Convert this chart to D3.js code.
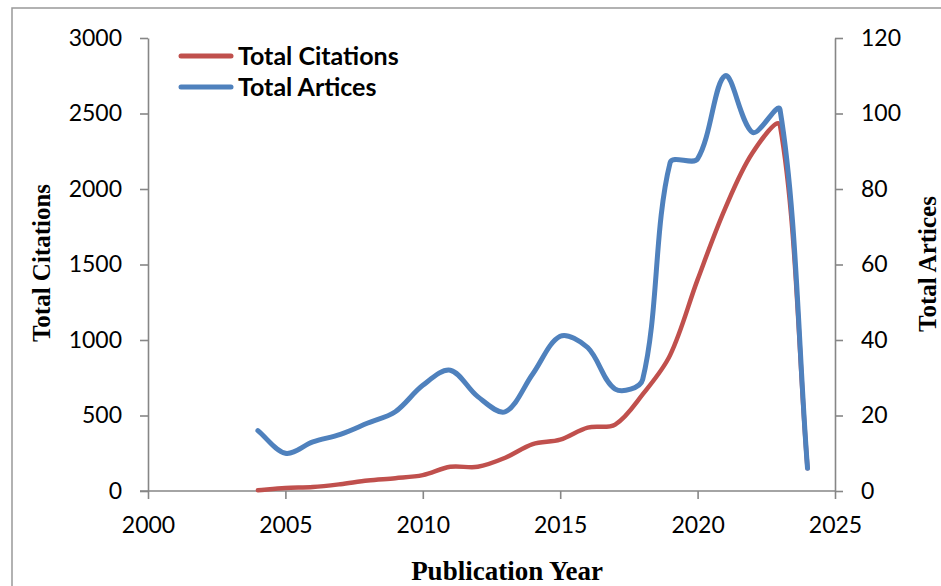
<!DOCTYPE html>
<html><head><meta charset="utf-8">
<script src="https://cdn.jsdelivr.net/npm/d3@7"></script>
<style>body{margin:0;background:#fff}svg{display:block}</style>
</head><body>
<svg id="c" width="941" height="586"></svg>
<script>
const years = [2004,2005,2006,2007,2008,2009,2010,2011,2012,2013,2014,2015,2016,2017,2018,2019,2020,2021,2022,2023,2024];
const totalCitations = [5,20,26,45,70,85,105,160,160,220,310,340,420,440,640,900,1400,1870,2240,2420,150];
const totalArticles = [16,10,13,15,18,21,28,32,25,21,31,41,38,27,29.5,87,88,110,95,101,6];
const xTicks = [2000,2005,2010,2015,2020,2025];
const leftTicks = [0,500,1000,1500,2000,2500,3000];
const rightTicks = [0,20,40,60,80,100,120];
const seriesNames = ["Total Citations","Total Artices"];
const colors = ["#C0504D","#4F81BD"];

// Excel-like smoothed line as a d3 curve factory
function ExcelCurve(context){ this._context = context; }
ExcelCurve.prototype = {
  areaStart(){ this._line = 0; },
  areaEnd(){ this._line = NaN; },
  lineStart(){ this._pts = []; },
  point(x, y){ this._pts.push([+x, +y]); },
  lineEnd(){
    const p = this._pts, c = this._context, n = p.length;
    if (!n) return;
    c.moveTo(p[0][0], p[0][1]);
    const dist = (a,b) => Math.hypot(b[0]-a[0], b[1]-a[1]);
    const f = 1/6;
    for (let i = 0; i < n-1; i++){
      const P0 = p[i-1] || p[i], P1 = p[i], P2 = p[i+1], P3 = p[i+2] || p[i+1];
      const d01 = dist(P0,P1), d12 = dist(P1,P2), d23 = dist(P2,P3);
      const f1 = (d01 + d12) > 0 ? f*2*d12/(d01+d12) : 0;
      const f2 = (d12 + d23) > 0 ? f*2*d12/(d12+d23) : 0;
      const c1 = [P1[0] + (P2[0]-P0[0])*f1, P1[1] + (P2[1]-P0[1])*f1];
      const c2 = [P2[0] - (P3[0]-P1[0])*f2, P2[1] - (P3[1]-P1[1])*f2];
      c.bezierCurveTo(c1[0], c1[1], c2[0], c2[1], P2[0], P2[1]);
    }
  }
};
const curveExcel = ctx => new ExcelCurve(ctx);

const svg = d3.select("#c");
const L = 148, R = 835, T = 38, B = 491;
const x = d3.scaleLinear().domain([2000,2025]).range([L,R]);
const yL = d3.scaleLinear().domain([0,3000]).range([B,T]);
const yR = d3.scaleLinear().domain([0,120]).range([B,T]);
const axisCol = "#868686";
const tickFont = "Lato, 'Liberation Sans', sans-serif";

svg.append("rect").attr("x",12).attr("y",8).attr("width",1000).attr("height",700)
  .attr("fill","none").attr("stroke","#999").attr("stroke-width",1.5);

function styleAxis(g){
  g.selectAll("path,line").attr("stroke",axisCol).attr("stroke-width",1.6);
  g.selectAll("text").attr("fill","#000").attr("font-family",tickFont).attr("font-size",23);
}
const gx = svg.append("g").attr("transform",`translate(0,${B})`)
  .call(d3.axisBottom(x).tickValues(xTicks).tickFormat(d3.format("d")).tickSizeInner(8).tickSizeOuter(0).tickPadding(18));
styleAxis(gx);
gx.select(".domain").attr("d",`M${L-8},0H${R}`);
const gl = svg.append("g").attr("transform",`translate(${L},0)`)
  .call(d3.axisLeft(yL).tickValues(leftTicks).tickFormat(d3.format("d")).tickSizeInner(8).tickSizeOuter(0).tickPadding(18));
styleAxis(gl);
const gr = svg.append("g").attr("transform",`translate(${R},0)`)
  .call(d3.axisRight(yR).tickValues(rightTicks).tickFormat(d3.format("d")).tickSizeInner(8).tickSizeOuter(0).tickPadding(18));
styleAxis(gr);

const lineL = d3.line().x((d,i)=>x(years[i])).y(d=>yL(d)).curve(curveExcel);
const lineR = d3.line().x((d,i)=>x(years[i])).y(d=>yR(d)).curve(curveExcel);
svg.append("path").attr("d",lineL(totalCitations)).attr("fill","none")
  .attr("stroke",colors[0]).attr("stroke-width",4.5).attr("stroke-linecap","round").attr("stroke-linejoin","round");
svg.append("path").attr("d",lineR(totalArticles)).attr("fill","none")
  .attr("stroke",colors[1]).attr("stroke-width",5).attr("stroke-linecap","round").attr("stroke-linejoin","round");

// legend
seriesNames.forEach((n,i)=>{
  const yy = 56 + i*31;
  svg.append("line").attr("x1",181).attr("x2",231).attr("y1",yy).attr("y2",yy)
    .attr("stroke",colors[i]).attr("stroke-width",5).attr("stroke-linecap","round");
  svg.append("text").attr("x",238).attr("y",yy+9).text(n)
    .attr("font-family",tickFont).attr("font-weight","bold").attr("font-size",25);
});

const titleFont = "'Liberation Serif','Times New Roman',serif";
svg.append("text").attr("transform","translate(50,263) rotate(-90)").attr("text-anchor","middle")
  .attr("font-family",titleFont).attr("font-weight","bold").attr("font-size",25).text("Total Citations");
svg.append("text").attr("transform","translate(936,264) rotate(-90)").attr("text-anchor","middle")
  .attr("font-family",titleFont).attr("font-weight","bold").attr("font-size",25).text("Total Artices");
svg.append("text").attr("x",507).attr("y",580).attr("text-anchor","middle")
  .attr("font-family",titleFont).attr("font-weight","bold").attr("font-size",27).text("Publication Year");
</script>
</body></html>
